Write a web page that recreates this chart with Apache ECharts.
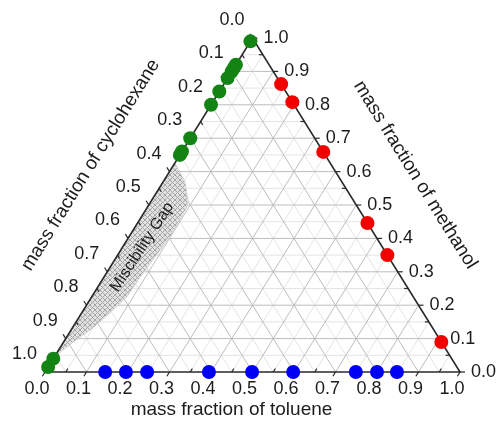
<!DOCTYPE html>
<html><head><meta charset="utf-8">
<script src="https://cdn.jsdelivr.net/npm/echarts@6/dist/echarts.min.js"></script>
<style>html,body{margin:0;padding:0;background:#fff}#chart{width:496px;height:425px}</style>
</head><body><div id="chart"></div>
<script>
// ---- Data (mass fractions) ----
// cyclohexane + methanol binary (toluene = 0): cyclohexane fraction
const greenCyclohexane = [0.01, 0.08, 0.09, 0.10, 0.12, 0.16, 0.20, 0.30, 0.34, 0.35, 0.96, 0.985];
// methanol + toluene binary (cyclohexane = 0): methanol fraction
const redMethanol = [0.862, 0.808, 0.659, 0.446, 0.350, 0.090];
// toluene + cyclohexane binary (methanol = 0): toluene fraction
const blueToluene = [0.145, 0.195, 0.246, 0.395, 0.499, 0.598, 0.749, 0.800, 0.848];
// miscibility gap boundary (toluene, methanol)
const gapToluene  = [0.0, 0.053, 0.087, 0.095, 0.099, 0.095, 0.087, 0.085, 0.068, 0.046, 0.023, 0.008, 0.0];
const gapMethanol = [0.626, 0.569, 0.515, 0.494, 0.410, 0.365, 0.284, 0.225, 0.177, 0.126, 0.090, 0.060, 0.030];
// ticks
const majorTicks = [0, 0.1, 0.2, 0.3, 0.4, 0.5, 0.6, 0.7, 0.8, 0.9, 1.0];
const majorLabels = ['0.0','0.1','0.2','0.3','0.4','0.5','0.6','0.7','0.8','0.9','1.0'];
const minorTicks = [0.05, 0.15, 0.25, 0.35, 0.45, 0.55, 0.65, 0.75, 0.85, 0.95];
const axisTitles = {bottom: 'mass fraction of toluene', left: 'mass fraction of cyclohexane', right: 'mass fraction of methanol'};
const gapLabel = 'Miscibility Gap';

// ternary (toluene t, methanol m) -> cartesian
const tern = (t, m) => [t + m / 2, m];

const FONT = '"Liberation Sans", Arial, sans-serif';

function makeHatch() {
  const s = 5;
  const c = document.createElement('canvas'); c.width = s; c.height = s;
  const g = c.getContext('2d');
  g.fillStyle = '#e2e2e2'; g.fillRect(0, 0, s, s);
  g.strokeStyle = '#a6a6a6'; g.lineWidth = 1;
  g.beginPath();
  g.moveTo(0, 0); g.lineTo(s, s);
  g.moveTo(s, 0); g.lineTo(0, s);
  g.stroke();
  return c;
}
const hatch = makeHatch();

function renderTernary(params, api) {
  const P = (t, m) => api.coord(tern(t, m));
  const ch = [];
  const seg = (a, b, color, w) => ch.push({type: 'line', shape: {x1: a[0], y1: a[1], x2: b[0], y2: b[1]}, style: {stroke: color, lineWidth: w}});
  const txt = (x, y, text, align, vAlign, size, rot) => ch.push({type: 'text', x: x, y: y, rotation: rot || 0,
    style: {text: text, fill: '#1c1c1c', fontSize: size, fontFamily: FONT, align: align, verticalAlign: vAlign}});
  const gridSet = (vals, color) => vals.forEach(k => {
    if (k <= 0 || k >= 1) return;
    seg(P(0, k), P(1 - k, k), color, 1);
    seg(P(k, 0), P(k, 1 - k), color, 1);
    seg(P(1 - k, 0), P(0, 1 - k), color, 1);
  });
  gridSet(minorTicks, '#e4e4e4');
  gridSet(majorTicks, '#bdbdbd');

  // miscibility gap
  ch.push({type: 'polygon', shape: {points: gapToluene.map((t, i) => P(t, gapMethanol[i]))},
    style: {fill: {image: hatch, repeat: 'repeat'}, stroke: '#d0d0d0', lineWidth: 0.8}});

  // frame
  ch.push({type: 'polygon', shape: {points: [P(0, 0), P(1, 0), P(0, 1)]}, style: {fill: 'none', stroke: '#2a2a2a', lineWidth: 1.6}});

  const o = P(0, 0);
  const unit = (p) => { const dx = p[0] - o[0], dy = p[1] - o[1]; const L = Math.hypot(dx, dy); return [dx / L, dy / L]; };
  const dT = unit(P(0, 1));   // constant-toluene direction (up-right)
  const dC = unit(P(-1, 1));  // constant-cyclohexane direction (up-left)
  const outB = [-dT[0], -dT[1]], outR = [1, 0], outL = dC;
  const tick = (p, d, len) => seg(p, [p[0] + d[0] * len, p[1] + d[1] * len], '#2a2a2a', 1.2);
  majorTicks.forEach(k => { tick(P(k, 0), outB, 5); tick(P(1 - k, k), outR, 5); tick(P(0, 1 - k), outL, 5); });
  minorTicks.forEach(k => { tick(P(k, 0), outB, -4); tick(P(1 - k, k), outR, -4); tick(P(0, 1 - k), outL, -4); });

  majorTicks.forEach((k, i) => {
    const b = P(k, 0); txt(b[0] - 8, b[1] + 17, majorLabels[i], 'center', 'middle', 18);
    const r = P(1 - k, k); txt(r[0] + 11, r[1], majorLabels[i], 'left', 'middle', 18);
    const l = P(0, 1 - k); txt(l[0] - 8, l[1] - 18, majorLabels[i], 'right', 'middle', 18);
  });

  const ang = Math.atan2(o[1] - P(0, 1)[1], P(0, 1)[0] - o[0]);
  const bm = P(0.5, 0); txt(bm[0] - 21, bm[1] + 38, axisTitles.bottom, 'center', 'middle', 19);
  const lm = P(0, 0.5); txt(lm[0] - 58, lm[1] - 40, axisTitles.left, 'center', 'middle', 19, ang);
  const rm = P(0.5, 0.5); txt(rm[0] + 59, rm[1] - 30, axisTitles.right, 'center', 'middle', 19, -ang);
  const gm = P(0.047, 0.374); txt(gm[0], gm[1], gapLabel, 'center', 'middle', 16, ang - 0.02);
  return {type: 'group', children: ch};
}

const chart = echarts.init(document.getElementById('chart'));
chart.setOption({
  animation: false,
  backgroundColor: '#fff',
  grid: {left: 45, right: 36, top: 38, bottom: 53},
  xAxis: {type: 'value', min: 0, max: 1, show: false},
  yAxis: {type: 'value', min: 0, max: 1, show: false},
  series: [
    {type: 'custom', renderItem: renderTernary, data: [[0, 0]], silent: true, z: 1, clip: false},
    {type: 'scatter', name: 'cyclohexane-methanol', data: greenCyclohexane.map(c => tern(0, 1 - c)),
      symbolSize: 14, itemStyle: {color: '#138413', opacity: 1}, z: 5, clip: false, silent: true},
    {type: 'scatter', name: 'methanol-toluene', data: redMethanol.map(m => tern(1 - m, m)),
      symbolSize: 14, itemStyle: {color: '#f20000', opacity: 1}, z: 5, clip: false, silent: true},
    {type: 'scatter', name: 'toluene-cyclohexane', data: blueToluene.map(t => tern(t, 0)),
      symbolSize: 14, itemStyle: {color: '#0000f2', opacity: 1}, z: 5, clip: false, silent: true}
  ]
});
</script></body></html>
